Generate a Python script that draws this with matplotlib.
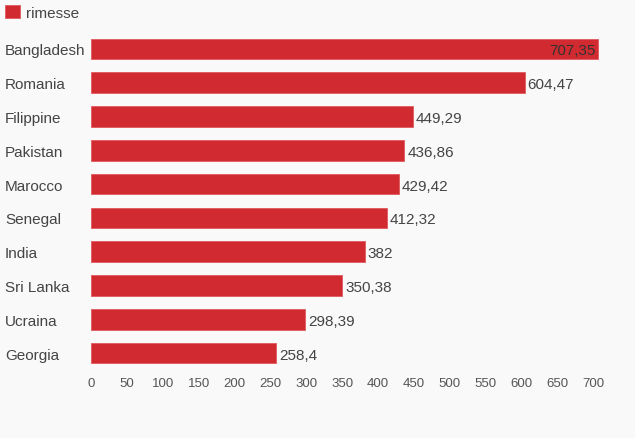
import matplotlib
matplotlib.use("Agg")
import matplotlib.pyplot as plt
from matplotlib.transforms import blended_transform_factory

countries = ["Bangladesh", "Romania", "Filippine", "Pakistan", "Marocco",
             "Senegal", "India", "Sri Lanka", "Ucraina", "Georgia"]
values = [707.35, 604.47, 449.29, 436.86, 429.42, 412.32, 382, 350.38, 298.39, 258.4]
value_labels = ["707,35", "604,47", "449,29", "436,86", "429,42",
                "412,32", "382", "350,38", "298,39", "258,4"]
xticks = list(range(0, 701, 50))
series_name = "rimesse"

plt.rcParams['font.family'] = ['Liberation Sans', 'DejaVu Sans']
BG = "#f9f9f9"
RED = "#d12a30"
TXT = "#444444"

fig = plt.figure(figsize=(6.35, 4.39), dpi=100, facecolor=BG)
ax = fig.add_axes([91/635, 1-371/439, (629-91)/635, (371-33)/439])
ax.set_facecolor(BG)

ypos = list(range(len(countries)))
bars = ax.barh(ypos, values, height=0.61, color=RED, edgecolor="#e05a5f",
               linewidth=0.6, label=series_name)
ax.set_ylim(len(countries) - 0.5, -0.5)
ax.set_xlim(0, 750)

for sp in ax.spines.values():
    sp.set_visible(False)
ax.set_yticks([])
ax.set_xticks(xticks)
ax.set_xticklabels([str(t) for t in xticks])
ax.tick_params(axis='x', length=0, pad=5, labelsize=9.5, labelcolor="#555555")

trans = blended_transform_factory(fig.transFigure, ax.transData)
for i, c in enumerate(countries):
    ax.text(5/635, i, c, transform=trans, ha='left', va='center_baseline',
            fontsize=11, color=TXT)

for i, (v, lab) in enumerate(zip(values, value_labels)):
    if i == 0:
        ax.annotate(lab, (v, i), xytext=(-2, 0), textcoords='offset points',
                    ha='right', va='center_baseline', fontsize=11, color="#333333")
    else:
        ax.annotate(lab, (v, i), xytext=(2, 0), textcoords='offset points',
                    ha='left', va='center_baseline', fontsize=11, color=TXT)

fig.legend(handles=[bars], labels=[series_name], loc='upper left',
           bbox_to_anchor=(-1/635, 1.0), frameon=False, handlelength=0.95,
           handleheight=0.95, handletextpad=0.45, borderaxespad=0.0,
           borderpad=0.4, fontsize=11, labelcolor=TXT)

fig.savefig("out.png", dpi=100, facecolor=BG)
